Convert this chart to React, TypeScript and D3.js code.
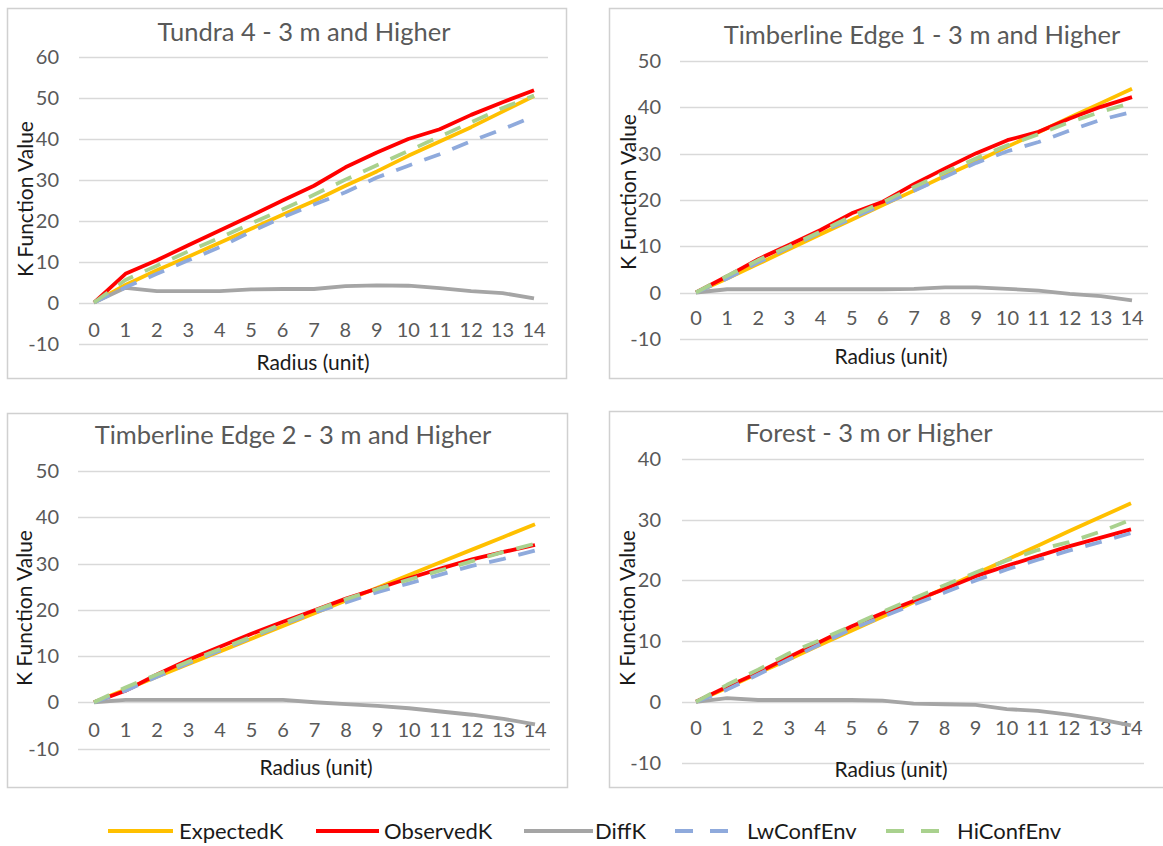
import React, { useRef, useEffect } from 'react';
import * as d3 from 'd3';

// radius categories (x axis)
const RADIUS = [0, 1, 2, 3, 4, 5, 6, 7, 8, 9, 10, 11, 12, 13, 14];

const SERIES_NAMES = ['ExpectedK', 'ObservedK', 'DiffK', 'LwConfEnv', 'HiConfEnv'];
const SERIES_COLORS = ['#FFC000', '#FF0000', '#A5A5A5', '#8FAADC', '#A9D18E'];
const SERIES_DASHED = [false, false, false, true, true];

const TITLES = [
  'Tundra 4 - 3 m and Higher',
  'Timberline Edge 1 - 3 m and Higher',
  'Timberline Edge 2 - 3 m and Higher',
  'Forest - 3 m or Higher',
];

const Y_TICKS_TUNDRA = [-10, 0, 10, 20, 30, 40, 50, 60];
const Y_TICKS_EDGE1 = [-10, 0, 10, 20, 30, 40, 50];
const Y_TICKS_EDGE2 = [-10, 0, 10, 20, 30, 40, 50];
const Y_TICKS_FOREST = [-10, 0, 10, 20, 30, 40];

// Tundra 4
const TUNDRA_EXPECTED = [0, 4.3, 7.9, 11.2, 14.6, 18, 21.4, 24.8, 28.5, 32, 35.8, 39.3, 42.8, 46.6, 50.4];
const TUNDRA_OBSERVED = [0, 7, 10.3, 14, 17.6, 21.2, 24.9, 28.5, 33, 36.6, 39.9, 42.3, 45.8, 48.9, 51.8];
const TUNDRA_DIFF = [0, 3.6, 2.8, 2.8, 2.8, 3.2, 3.3, 3.3, 4, 4.2, 4.1, 3.5, 2.8, 2.3, 1];
const TUNDRA_LW = [0, 3.7, 7, 10.3, 13.5, 17.3, 20.8, 23.9, 26.9, 30.5, 33.4, 36.2, 39.4, 42.3, 45.5];
const TUNDRA_HI = [0, 5.5, 9, 12.5, 15.8, 19.3, 22.7, 26.3, 30, 33.5, 37, 40.5, 44, 47.5, 50.5];

// Timberline Edge 1
const EDGE1_EXPECTED = [0, 3, 6.2, 9.4, 12.6, 15.7, 18.9, 22, 25.2, 28.3, 31.5, 34.6, 37.8, 40.9, 44];
const EDGE1_OBSERVED = [0, 3.5, 7.2, 10.3, 13.5, 17.1, 19.6, 23.4, 26.8, 30.1, 32.9, 34.7, 37.6, 40.1, 42.2];
const EDGE1_DIFF = [0, 0.7, 0.7, 0.7, 0.7, 0.7, 0.7, 0.8, 1.1, 1.1, 0.8, 0.4, -0.3, -0.8, -1.7];
const EDGE1_LW = [0, 3, 6.5, 9.8, 13, 16, 19, 22, 25, 28, 30.5, 32.5, 35, 37.3, 39];
const EDGE1_HI = [0, 3.6, 7, 10, 13.2, 16.5, 19.5, 22.8, 26, 29, 31.8, 34.2, 36.8, 39, 41];

// Timberline Edge 2
const EDGE2_EXPECTED = [0, 2.75, 5.5, 8.25, 11, 13.75, 16.5, 19.25, 22, 24.75, 27.5, 30.25, 33, 35.75, 38.5];
const EDGE2_OBSERVED = [0, 2.5, 6, 9.2, 12, 14.8, 17.4, 19.9, 22.4, 24.6, 26.8, 28.9, 30.9, 32.5, 34];
const EDGE2_DIFF = [0, 0.5, 0.5, 0.5, 0.5, 0.5, 0.5, 0, -0.4, -0.8, -1.3, -2, -2.7, -3.6, -4.8];
const EDGE2_LW = [0, 2.5, 5.5, 8.5, 11.2, 14, 16.8, 19.4, 21.6, 23.8, 25.7, 27.6, 29.5, 31, 32.8];
const EDGE2_HI = [0, 3.2, 6, 8.8, 11.5, 14.2, 17, 19.8, 22.3, 24.5, 26.5, 28.5, 30.5, 32.5, 34.3];

// Forest
const FOREST_EXPECTED = [0, 2.3, 4.7, 7, 9.4, 11.7, 14, 16.4, 18.7, 21.1, 23.4, 25.7, 28.1, 30.4, 32.7];
const FOREST_OBSERVED = [0, 2.5, 4.8, 7.4, 9.9, 12.4, 14.6, 16.6, 18.6, 20.7, 22.4, 24, 25.6, 27, 28.4];
const FOREST_DIFF = [0, 0.6, 0.3, 0.3, 0.3, 0.3, 0.2, -0.3, -0.4, -0.5, -1.2, -1.5, -2.1, -2.9, -3.9];
const FOREST_LW = [0, 2, 4.5, 7, 9.5, 12, 14, 16, 18, 20, 21.8, 23.4, 24.9, 26.3, 27.8];
const FOREST_HI = [0, 2.8, 5.3, 8, 10.2, 12.5, 14.8, 17, 19.2, 21.3, 23.3, 25, 26.3, 28, 30];

const PANEL_DATA = [
  { yTicks: Y_TICKS_TUNDRA, series: [TUNDRA_EXPECTED, TUNDRA_OBSERVED, TUNDRA_DIFF, TUNDRA_LW, TUNDRA_HI] },
  { yTicks: Y_TICKS_EDGE1, series: [EDGE1_EXPECTED, EDGE1_OBSERVED, EDGE1_DIFF, EDGE1_LW, EDGE1_HI] },
  { yTicks: Y_TICKS_EDGE2, series: [EDGE2_EXPECTED, EDGE2_OBSERVED, EDGE2_DIFF, EDGE2_LW, EDGE2_HI] },
  { yTicks: Y_TICKS_FOREST, series: [FOREST_EXPECTED, FOREST_OBSERVED, FOREST_DIFF, FOREST_LW, FOREST_HI] },
];

// pixel layout of each panel
const LAYOUT = [
  { box: [7, 8, 559, 370], x: [94, 534], grid: [79, 548], y: [343.5, 56.7], tickRight: 59, xLabelY: 330, title: [304, 32], xTitle: [313, 363], yTitle: [26, 199] },
  { box: [609, 8, 600, 370], x: [696, 1132], grid: [680, 1148], y: [338.8, 61], tickRight: 661, xLabelY: 318, title: [922, 35], xTitle: [891, 357], yTitle: [629, 192] },
  { box: [7, 413, 560, 374], x: [94, 535], grid: [78, 550], y: [748.5, 471], tickRight: 59, xLabelY: 730, title: [293, 435], xTitle: [316, 768], yTitle: [25, 608] },
  { box: [609, 411, 600, 376], x: [696, 1131], grid: [682, 1144], y: [762.5, 459], tickRight: 661, xLabelY: 728, title: [869, 433], xTitle: [891, 770], yTitle: [628, 608] },
];

const LEGEND_POS = [
  { line: [108, 173], text: 179 },
  { line: [316, 379], text: 384 },
  { line: [524, 593], text: 595 },
  { line: [675, 728], text: 747 },
  { line: [886, 940], text: 957 },
];

const FONT = 'Lato, "Open Sans", sans-serif';

const App = () => {
  const svgRef = useRef<SVGSVGElement>(null);

  useEffect(() => {
    const svg = d3.select(svgRef.current);
    svg.selectAll('*').remove();

    svg.append('rect').attr('width', 1163).attr('height', 846).attr('fill', '#fff');

    PANEL_DATA.forEach((pd, i) => {
      const L = LAYOUT[i];
      const g = svg.append('g');

      g.append('rect')
        .attr('x', L.box[0] + 0.5)
        .attr('y', L.box[1] + 0.5)
        .attr('width', L.box[2])
        .attr('height', L.box[3])
        .attr('fill', '#fff')
        .attr('stroke', '#D0D0D0')
        .attr('stroke-width', 1.5);

      const yMin = pd.yTicks[0];
      const yMax = pd.yTicks[pd.yTicks.length - 1];
      const x = d3.scaleLinear().domain([0, 14]).range(L.x);
      const y = d3.scaleLinear().domain([yMin, yMax]).range(L.y);

      // gridlines
      g.selectAll('.grid')
        .data(pd.yTicks)
        .enter()
        .append('line')
        .attr('x1', L.grid[0])
        .attr('x2', L.grid[1])
        .attr('y1', (d) => Math.round(y(d)) + 0.5)
        .attr('y2', (d) => Math.round(y(d)) + 0.5)
        .attr('stroke', '#D9D9D9')
        .attr('stroke-width', 1.3);

      // y tick labels
      g.selectAll('.ytick')
        .data(pd.yTicks)
        .enter()
        .append('text')
        .attr('x', L.tickRight)
        .attr('y', (d) => y(d))
        .attr('dy', '0.35em')
        .attr('text-anchor', 'end')
        .attr('font-family', FONT)
        .attr('font-size', 20)
        .attr('fill', '#595959')
        .text((d) => d);

      // x tick labels
      g.selectAll('.xtick')
        .data(RADIUS)
        .enter()
        .append('text')
        .attr('x', (d) => x(d))
        .attr('y', L.xLabelY)
        .attr('dy', '0.35em')
        .attr('text-anchor', 'middle')
        .attr('font-family', FONT)
        .attr('font-size', 20)
        .attr('fill', '#595959')
        .text((d) => d);

      // series
      pd.series.forEach((vals, si) => {
        const line = d3
          .line<number>()
          .x((_, k) => x(RADIUS[k]))
          .y((d) => y(d));
        g.append('path')
          .datum(vals)
          .attr('fill', 'none')
          .attr('stroke', SERIES_COLORS[si])
          .attr('stroke-width', 3.8)
          .attr('stroke-linejoin', 'round')
          .attr('stroke-dasharray', SERIES_DASHED[si] ? '17,13' : null)
          .attr('d', line);
      });

      g.append('text')
        .attr('x', L.title[0])
        .attr('y', L.title[1])
        .attr('dy', '0.35em')
        .attr('text-anchor', 'middle')
        .attr('font-family', FONT)
        .attr('font-size', 25.5)
        .attr('fill', '#595959')
        .text(TITLES[i]);

      g.append('text')
        .attr('x', L.xTitle[0])
        .attr('y', L.xTitle[1])
        .attr('dy', '0.35em')
        .attr('text-anchor', 'middle')
        .attr('font-family', FONT)
        .attr('font-size', 21)
        .attr('fill', '#1a1a1a')
        .text('Radius (unit)');

      g.append('text')
        .attr('transform', `translate(${L.yTitle[0]},${L.yTitle[1]}) rotate(-90)`)
        .attr('dy', '0.35em')
        .attr('text-anchor', 'middle')
        .attr('font-family', FONT)
        .attr('font-size', 21)
        .attr('fill', '#1a1a1a')
        .text('K Function Value');
    });

    // legend
    const lg = svg.append('g');
    SERIES_NAMES.forEach((name, i) => {
      const p = LEGEND_POS[i];
      lg.append('line')
        .attr('x1', p.line[0])
        .attr('x2', p.line[1])
        .attr('y1', 831)
        .attr('y2', 831)
        .attr('stroke', SERIES_COLORS[i])
        .attr('stroke-width', 4)
        .attr('stroke-dasharray', SERIES_DASHED[i] ? '18,17' : null);
      lg.append('text')
        .attr('x', p.text)
        .attr('y', 831)
        .attr('dy', '0.35em')
        .attr('font-family', FONT)
        .attr('font-size', 22)
        .attr('fill', '#1a1a1a')
        .text(name);
    });
  }, []);

  return (
    <svg
      ref={svgRef}
      width={1163}
      height={846}
      style={{ position: 'absolute', left: 0, top: 0, display: 'block' }}
    />
  );
};

export default App;
